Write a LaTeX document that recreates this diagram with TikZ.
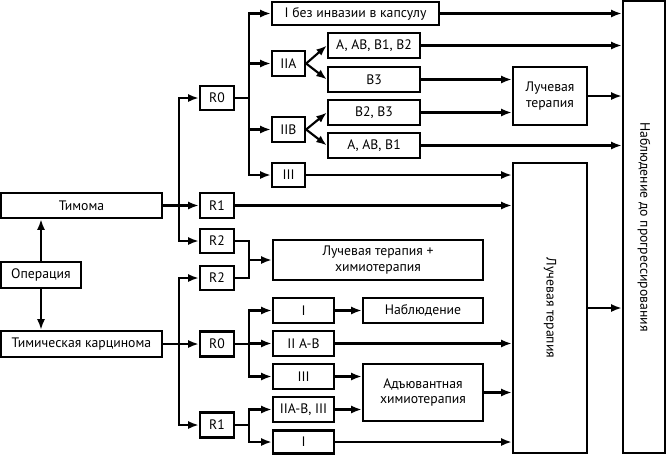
\documentclass[tikz,border=0pt]{standalone}
\usepackage{fontspec}
\setmainfont{PT Sans}
\usepackage{tikz}
\usetikzlibrary{arrows.meta}
\usetikzlibrary{calc}
\tikzstyle{stagebox}=[rectangle,draw,line width=1.7pt,align=center,inner sep=0pt,font=\fontsize{10.3}{11.5}\selectfont]
\tikzstyle{flow} = [draw,line width=1.6pt,-{Latex[length=8pt,width=6pt]}]
\tikzstyle{link} = [draw,line width=1.6pt]

\begin{document}
\begin{tikzpicture}[x=0.75pt,y=-0.75pt]
   \useasboundingbox (0,0) rectangle (667,455);

  \foreach \x/\y/\w/\h/\name/\label in {
      81.5/205.5/161/25/tim/Тимома, 41/275/80/26/oper/Операция, 81.5/344/161/26/carc/Тимическая карцинома,
      217/98/34/24/Rza/R0, 217/205.5/34/25/Roa/R1, 217/241/34/24/Rta/R2,
      217/278/34/24/Rtb/R2, 217/344/34/25/Rzb/R0, 217/425/34/25/Rob/R1,
      355.5/13.5/167/23/sI/I без инвазии в капсулу,
      288.5/63.5/33/25/sIIA/IIA, 288.5/129.5/33/25/sIIB/IIB, 288.5/175/33/24/sIII/III,
      374/45.5/92/25/hA/{A, AB, B1, B2}, 374/79.5/92/25/hB/B3,
      374/112.5/92/25/hC/{B2, B3}, 374/145.5/92/25/hD/{A, AB, B1},
      550/96/74/58/rayA/{Лучевая\\терапия},
      550/308/74/290/rayB/{\rotatebox{-90}{Лучевая терапия}},
      644/227/42/452/obs/{\rotatebox{-90}{Наблюдение до прогрессирования}},
      378/260/210/40/rc/{Лучевая терапия +\\химиотерапия},
      303.5/310.5/61/25/cA/I, 303.5/343.5/61/25/cB/II A-B, 303.5/376.5/61/25/cC/III,
      303.5/409.5/61/25/cD/{IIA-B, III}, 303.5/442/61/23/cE/I,
      423/310.5/120/25/nab/Наблюдение,
      423/392.5/120/57/adj/{Адъювантная\\химиотерапия}}
          \node[stagebox, minimum width=\w*0.75pt, minimum height=\h*0.75pt] (\name) at (\x,\y) {\label};

   % junctions
   \coordinate (jt) at (179,205.5);
   \coordinate (jc) at (179,344);
   \coordinate (jza) at (249,98);
   \coordinate (jzb) at (249,344);
   \coordinate (job) at (249,425);
   \coordinate (jr) at (249,260);

   \draw[flow] (oper) -- (oper |- tim.south);
   \draw[flow] (oper) -- (oper |- carc.north);

   \draw[flow] (tim) -- (Roa);
   \foreach \dest in {Rza,Rta}
         \draw[flow] (jt) |- (\dest);
   \draw[flow] (carc) -- (Rzb);
   \foreach \dest in {Rtb,Rob}
         \draw[flow] (jc) |- (\dest);

   \draw[link] (Rza) -- (jza);
   \foreach \dest in {sI,sIIA,sIIB,sIII}
         \draw[flow] (jza) |- (\dest);
   \foreach \source/ \dest in {sIIA/hA,sIIA/hB,sIIB/hC,sIIB/hD}
         \draw[flow] (\source.east) -- (\dest.west);

   \foreach \source in {sI,hA,hD,rayA,rayB}
         \draw[flow] (\source) -- (\source -| obs.west);
   \foreach \source in {hB,hC}
         \draw[flow] (\source) -- (\source -| rayA.west);
   \foreach \source in {sIII,Roa,cB,adj,cE}
         \draw[flow] (\source) -- (\source -| rayB.west);

   \draw[link] (Rta) -| (jr);
   \draw[link] (Rtb) -| (jr);
   \draw[flow] (jr) -- (rc);

   \draw[link] (Rzb) -- (jzb);
   \foreach \dest in {cA,cB,cC}
         \draw[flow] (jzb) |- (\dest);
   \draw[link] (Rob) -- (job);
   \foreach \dest in {cD,cE}
         \draw[flow] (job) |- (\dest);

   \draw[flow] (cA) -- (nab);
   \foreach \source in {cC,cD}
         \draw[flow] (\source) -- (\source -| adj.west);

\end{tikzpicture}
\end{document}
